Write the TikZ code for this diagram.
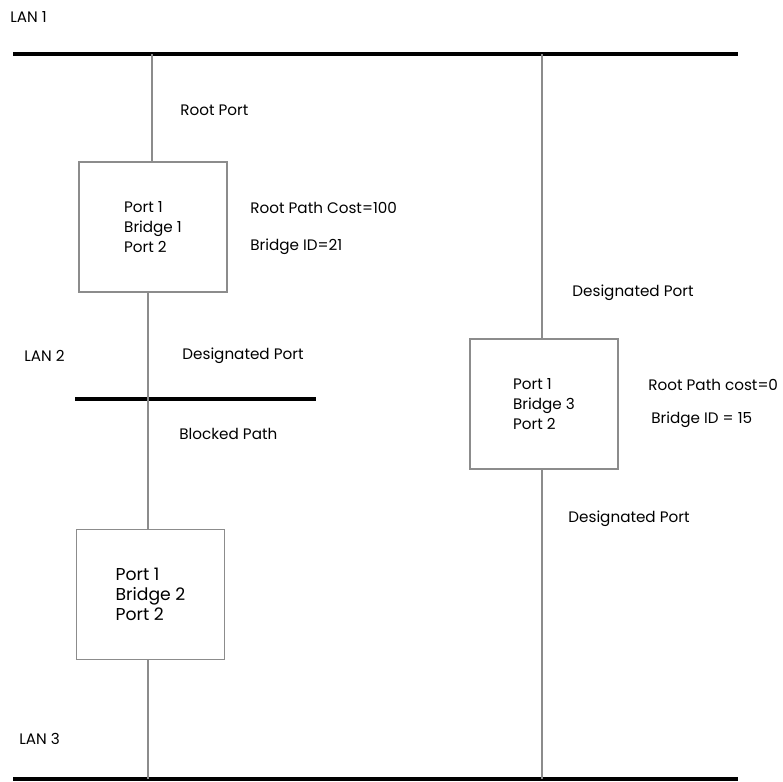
\documentclass[tikz,border=0pt]{standalone}
\usepackage{fontspec}
\setmainfont{Poppins}
\usetikzlibrary{positioning}
\definecolor{wiregray}{HTML}{8C8C8C}

\begin{document}
\begin{tikzpicture}[
    x=0.5pt, y=-0.5pt,
    lan/.style={line width=2pt, black},
    wire/.style={line width=0.6pt, wiregray},
    bridge/.style={draw=wiregray, line width=0.6pt, minimum width=74pt, minimum height=65pt, align=left, font=\fontsize{7.6}{10}\selectfont},
    bigbridge/.style={bridge, font=\fontsize{8.6}{10}\selectfont},
    label/.style={anchor=west, inner sep=0pt, font=\fontsize{7.6}{9}\selectfont}
  ]
    \useasboundingbox (0,0) rectangle (783,782);

    % LAN segments
    \coordinate (lan1w) at (13,54);
    \coordinate (lan1e) at (738,54);
    \coordinate (lan2w) at (75,399);
    \coordinate (lan2e) at (316,399);
    \coordinate (lan3w) at (13,779);
    \coordinate (lan3e) at (738,779);
    \draw[lan] (lan1w) -- (lan1e);
    \draw[lan] (lan2w) -- (lan2e);
    \draw[lan] (lan3w) -- (lan3e);

    % bridges
    \node[bridge] (br1) at (153,227) {Port 1\\Bridge 1\\Port 2};
    \node[bigbridge] (br2) at (150.5,594.5) {Port 1\\Bridge 2\\Port 2};
    \node[bridge] (br3) at (544,404) {Port 1\\Bridge 3\\Port 2};

    % taps
    \coordinate (t1) at (152,54);
    \coordinate (t2) at (148,399);
    \coordinate (t3) at (148,779);
    \coordinate (t4) at (542,54);
    \coordinate (t5) at (542,779);
    \draw[wire] (t1) -- (t1 |- br1.north);
    \draw[wire] (t2 |- br1.south) -- (t2 |- br2.north);
    \draw[wire] (t2 |- br2.south) -- (t3);
    \draw[wire] (t4) -- (t4 |- br3.north);
    \draw[wire] (t4 |- br3.south) -- (t5);

    % labels
    \node[label] (lan1) at (10,17) {LAN 1};
    \node[label] (lan2) at (24,356) {LAN 2};
    \node[label] (lan3) at (19,739) {LAN 3};
    \node[label] (rp1) at (180,110) {Root Port};
    \node[label] (cost1) at (250,208) {Root Path Cost=100};
    \node[label] (id1) at (250,247) {Bridge ID=21};
    \node[label] (dp2) at (182,356) {Designated Port};
    \node[label] (blk) at (179,434) {Blocked Path};
    \node[label] (dp3a) at (572,293) {Designated Port};
    \node[label] (cost3) at (648,385) {Root Path cost=0};
    \node[label] (id3) at (651,420) {Bridge ID = 15};
    \node[label] (dp3b) at (568,519) {Designated Port};
  \end{tikzpicture}
\end{document}
